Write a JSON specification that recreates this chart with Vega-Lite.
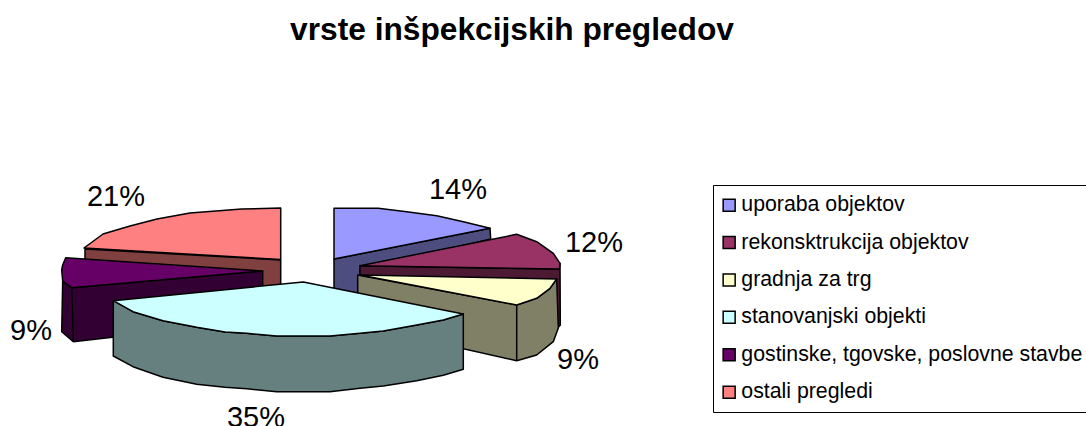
{
"$schema":"https://vega.github.io/schema/vega-lite/v6.json",
"width":1086,"height":426,"padding":0,"autosize":{"type":"none"},
"background":"white",
"config":{"view":{"stroke":null}},
"title":{"text":"vrste inšpekcijskih pregledov","font":"Liberation Sans","fontSize":31.7,"fontWeight":"bold","color":"black","anchor":"middle","frame":"group","orient":"top","baseline":"middle","offset":-30,"dy":32,"dx":-31},
"datasets":{"slices":[
{"slice":"ostali pregledi","share":0.21},
{"slice":"gostinske, tgovske, poslovne stavbe","share":0.09},
{"slice":"uporaba objektov","share":0.14},
{"slice":"rekonsktrukcija objektov","share":0.12},
{"slice":"gradnja za trg","share":0.09},
{"slice":"stanovanjski objekti","share":0.35}
]},
"data":{"name":"slices"},
"layer":[
{"mark":{"type":"point","filled":true,"opacity":1,"size":4,"stroke":"black","strokeWidth":1.5,"strokeJoin":"round"},
"encoding":{
"color":{"field":"slice","type":"nominal","legend":null,"scale":{"domain":["ostali pregledi","gostinske, tgovske, poslovne stavbe","uporaba objektov","rekonsktrukcija objektov","gradnja za trg","stanovanjski objekti"],"range":["#804040","#330033","#4d4d80","#4d1a33","#808066","#668080"]}},
"shape":{"field":"slice","type":"nominal","legend":null,"scale":{"domain":["ostali pregledi","gostinske, tgovske, poslovne stavbe","uporaba objektov","rekonsktrukcija objektov","gradnja za trg","stanovanjski objekti"],"range":[
"M-458,36L-262.3,47L-262.3,87L-343,87L-458,49Z",
"M-471.3,74.7L-280.3,58L-280.3,107L-469.7,128.7ZM-480.3,68L-471.3,74.7L-469.7,128.7L-481.3,118.7Z",
"M-209,46L-53,15.3L-52.3,26L-183,57L-183,87L-209,87Z",
"M-183,52.7L16.3,56L17,50.3L17.3,112L9,122L-184,117Z",
"M-185.3,62L-26.3,92L-26.3,147.7L-185.3,112ZM-26.3,92L-6.3,85.3L7,75.3L13.7,66L15.3,115L10.3,128.7L-6.3,142L-26.3,147.7Z",
"M-429.7,87.7L-410,98.7L-380,107.7L-346.3,114.3L-318,119L-296.3,120.3L-266.3,123L-213,123L-183,120.3L-159.7,118L-126.3,112L-99.7,107L-79.7,101L-79.7,156.3L-99.7,162.3L-126.3,167.7L-159.7,173L-183,175.3L-213,178.7L-266.3,178.7L-296.3,175.7L-318,174.3L-346.3,171.3L-380,164.3L-410,153.7L-429.7,143Z"
]}}}},
{"mark":{"type":"point","filled":true,"opacity":1,"size":4,"stroke":"black","strokeWidth":1.5,"strokeJoin":"round"},
"encoding":{
"fill":{"field":"slice","type":"nominal","scale":{"domain":["uporaba objektov","rekonsktrukcija objektov","gradnja za trg","stanovanjski objekti","gostinske, tgovske, poslovne stavbe","ostali pregledi"],"range":["#9999ff","#993366","#ffffcc","#ccffff","#660066","#ff8080"]},
"legend":{"orient":"none","legendX":713,"legendY":185,"title":null,"symbolType":"square","symbolSize":144,"symbolOffset":-4,"symbolStrokeColor":"black","symbolStrokeWidth":1.5,"symbolOpacity":1,"labelFont":"Liberation Sans","labelFontSize":21.3,"labelColor":"black","labelLimit":600,"rowPadding":15.4,"padding":9.5,"fillColor":"white","strokeColor":"black","labelOffset":1.5}},
"shape":{"field":"slice","type":"nominal","legend":null,"scale":{"domain":["ostali pregledi","gostinske, tgovske, poslovne stavbe","uporaba objektov","rekonsktrukcija objektov","gradnja za trg","stanovanjski objekti"],"range":[
"M-262.3,-5L-301.3,-4L-353,0L-386,6L-413,13L-440,21L-459,35L-262.3,46.5Z",
"M-477.3,44.7L-280.3,58L-471.3,74.7L-480.3,68L-481.3,57L-480.3,52Z",
"M-209,-4.7L-164.7,-4.7L-136.3,-1.3L-106.3,2.7L-79.7,8.7L-53,15.3L-209,46Z",
"M-183,52.7L-26.3,21.3L-6.3,28.7L10.3,40.3L17,50.3L16.3,56Z",
"M-183,62L13.7,66L7,75.3L-6.3,85.3L-26.3,92Z",
"M-239.7,69L-429.7,87.7L-410,98.7L-380,107.7L-346.3,114.3L-318,119L-296.3,120.3L-266.3,123L-213,123L-183,120.3L-159.7,118L-126.3,112L-99.7,107L-79.7,101Z"
]}}}},
{"transform":[{"filter":"datum.slice==='uporaba objektov'"}],"mark":{"type":"text","font":"Liberation Sans","fontSize":29,"color":"black","align":"center","baseline":"middle","dx":-85,"dy":-23},"encoding":{"text":{"field":"share","format":".0%"}}},
{"transform":[{"filter":"datum.slice==='rekonsktrukcija objektov'"}],"mark":{"type":"text","font":"Liberation Sans","fontSize":29,"color":"black","align":"center","baseline":"middle","dx":51,"dy":30},"encoding":{"text":{"field":"share","format":".0%"}}},
{"transform":[{"filter":"datum.slice==='gradnja za trg'"}],"mark":{"type":"text","font":"Liberation Sans","fontSize":29,"color":"black","align":"center","baseline":"middle","dx":35,"dy":147},"encoding":{"text":{"field":"share","format":".0%"}}},
{"transform":[{"filter":"datum.slice==='stanovanjski objekti'"}],"mark":{"type":"text","font":"Liberation Sans","fontSize":29,"color":"black","align":"center","baseline":"middle","dx":-287,"dy":205},"encoding":{"text":{"field":"share","format":".0%"}}},
{"transform":[{"filter":"datum.slice==='gostinske, tgovske, poslovne stavbe'"}],"mark":{"type":"text","font":"Liberation Sans","fontSize":29,"color":"black","align":"center","baseline":"middle","dx":-512,"dy":118},"encoding":{"text":{"field":"share","format":".0%"}}},
{"transform":[{"filter":"datum.slice==='ostali pregledi'"}],"mark":{"type":"text","font":"Liberation Sans","fontSize":29,"color":"black","align":"center","baseline":"middle","dx":-427,"dy":-16},"encoding":{"text":{"field":"share","format":".0%"}}}
],
"resolve":{"scale":{"shape":"independent"}}
}
